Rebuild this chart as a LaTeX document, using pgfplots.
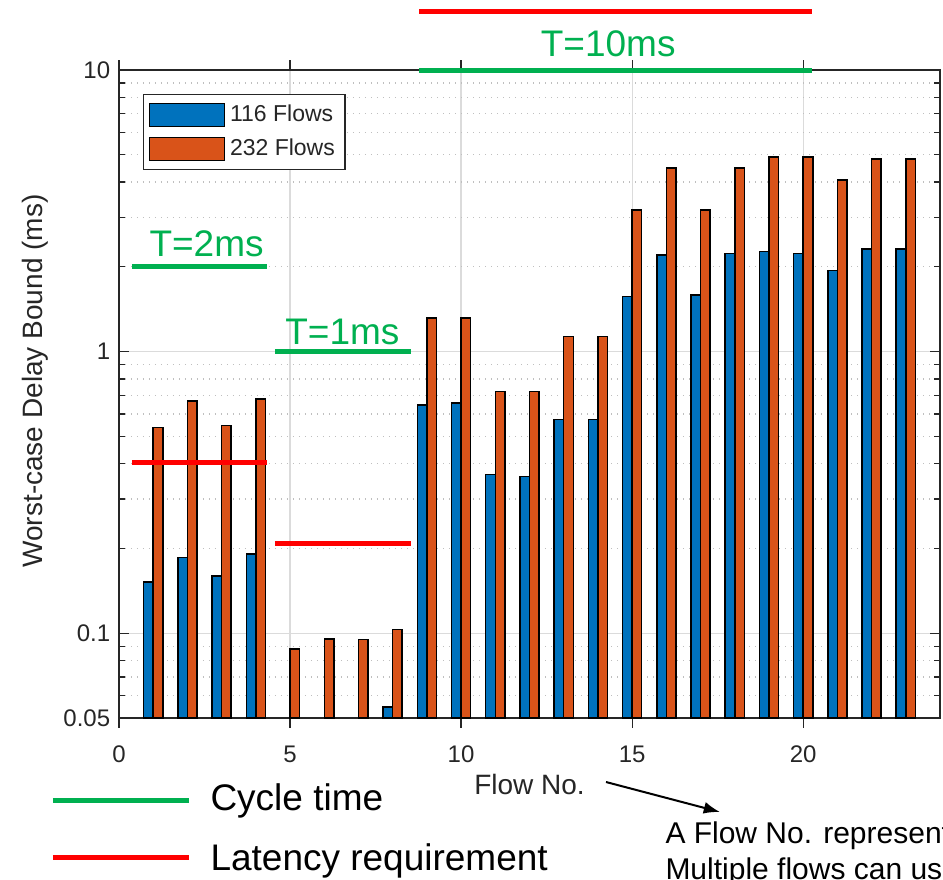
\documentclass[border=0pt]{standalone}
\usepackage{fontspec}
\setmainfont{Liberation Sans}
\usepackage{pgfplots}
\pgfplotsset{compat=1.18}
\usetikzlibrary{arrows.meta}
\definecolor{mblue}{HTML}{0072BD}
\definecolor{morange}{HTML}{D95319}
\definecolor{pgreen}{HTML}{00B050}
\definecolor{pred}{HTML}{FF0000}
\definecolor{axgray}{gray}{0.15}

\pgfplotstableread{
x y
1 0.152
2 0.186
3 0.160
4 0.191
8 0.0547
9 0.647
10 0.658
11 0.366
12 0.360
13 0.573
14 0.573
15 1.57
16 2.20
17 1.59
18 2.23
19 2.27
20 2.23
21 1.94
22 2.31
23 2.31
}\smallflows

\pgfplotstableread{
x y
1 0.538
2 0.669
3 0.547
4 0.678
5 0.088
6 0.0955
7 0.095
8 0.103
9 1.315
10 1.315
11 0.722
12 0.722
13 1.13
14 1.13
15 3.19
16 4.48
17 3.19
18 4.48
19 4.92
20 4.92
21 4.07
22 4.84
23 4.84
}\largeflows

\begin{document}
\begin{tikzpicture}
\begin{axis}[
  at={(0,0)}, anchor=south west,
  scale only axis, width=328.4pt, height=259.2pt,
  ymode=log, log origin=infty,
  xmin=0, xmax=24, ymin=0.05, ymax=10,
  xtick={0,5,10,15,20},
  ytick={0.05,0.1,1,10}, yticklabels={0.05,0.1,1,10},
  minor ytick={0.06,0.07,0.08,0.09,0.2,0.3,0.4,0.5,0.6,0.7,0.8,0.9,2,3,4,5,6,7,8,9},
  xmajorgrids, ymajorgrids, yminorgrids,
  major grid style={gray!28, line width=0.5pt},
  minor grid style={gray!50, dotted, line width=0.5pt},
  axis line style={axgray, line width=0.6pt},
  tick style={axgray, line width=0.5pt},
  major tick length=4pt, minor tick length=2.5pt,
  tick label style={font=\fontsize{9.6}{11}\selectfont, text=axgray},
  xticklabel style={yshift=-3.5pt},
  /pgf/number format/assume math mode=true,
  xlabel={Flow No.}, ylabel={Worst-case Delay Bound (ms)},
  label style={font=\fontsize{11.2}{13}\selectfont, text=axgray},
  xlabel style={at={(axis description cs:0.5,-0.102)},anchor=center},
  ylabel style={at={(axis description cs:-0.102,0.52)},anchor=center},
  ybar=0pt, bar width=0.28,
  clip=false,
  legend style={at={(0.029,0.963)}, anchor=north west, draw=axgray, line width=0.6pt,
    font=\fontsize{9.2}{11}\selectfont, text=axgray, inner sep=2pt, row sep=1.5pt},
  legend cell align=left,
  legend image code/.code={\draw[#1, line width=0.6pt] (0pt,-4.6pt) rectangle (30pt,4.6pt);},
]
\addplot[fill=mblue, draw=black, line width=0.6pt] table[x=x,y=y] {\smallflows};
\addplot[fill=morange, draw=black, line width=0.6pt] table[x=x,y=y] {\largeflows};
\legend{116 Flows, 232 Flows}

\coordinate (r1a) at (axis cs:0.38,0.403);
\coordinate (r1b) at (axis cs:4.33,0.403);
\coordinate (g1a) at (axis cs:0.38,2.0);
\coordinate (g1b) at (axis cs:4.33,2.0);
\coordinate (t1) at (axis cs:2.56,2.18);
\coordinate (r2a) at (axis cs:4.56,0.2075);
\coordinate (r2b) at (axis cs:8.54,0.2075);
\coordinate (g2a) at (axis cs:4.56,1.0);
\coordinate (g2b) at (axis cs:8.54,1.0);
\coordinate (t2) at (axis cs:6.53,1.06);
\coordinate (r3a) at (axis cs:8.77,16.18);
\coordinate (r3b) at (axis cs:20.26,16.18);
\coordinate (g3a) at (axis cs:8.77,10);
\coordinate (g3b) at (axis cs:20.26,10);
\coordinate (t3) at (axis cs:14.3,11.17);
\end{axis}

\draw[pred, line width=2pt] (r1a) -- (r1b);
\draw[pgreen, line width=2pt] (g1a) -- (g1b);
\draw[pred, line width=2pt] (r2a) -- (r2b);
\draw[pgreen, line width=2pt] (g2a) -- (g2b);
\draw[pred, line width=2pt] (r3a) -- (r3b);
\draw[pgreen, line width=2pt] (g3a) -- (g3b);
\node[anchor=base, inner sep=0, text=pgreen, font=\fontsize{14.8}{17}\selectfont] at (t1) {T=2ms};
\node[anchor=base, inner sep=0, text=pgreen, font=\fontsize{14.8}{17}\selectfont] at (t2) {T=1ms};
\node[anchor=base, inner sep=0, text=pgreen, font=\fontsize{14.8}{17}\selectfont] at (t3) {T=10ms};

\draw[pgreen, line width=2pt] (-26.4pt,-32.8pt) -- (28pt,-32.8pt);
\draw[pred, line width=2pt] (-26.4pt,-55.6pt) -- (28pt,-55.6pt);
\node[anchor=base west, inner sep=0, font=\fontsize{14.8}{17}\selectfont] at (36.4pt,-36.8pt) {Cycle time};
\node[anchor=base west, inner sep=0, font=\fontsize{14.8}{17}\selectfont] at (36.4pt,-60.8pt) {Latency requirement};
\draw[-{Latex[length=6.5pt,width=4.8pt]}, line width=0.8pt] (194.8pt,-25.6pt) -- (240.4pt,-37.6pt);
\node[anchor=base west, inner sep=0, font=\fontsize{12}{14}\selectfont] at (218.4pt,-50pt) {A Flow No. represents a flow type.};
\node[anchor=base west, inner sep=0, font=\fontsize{12}{14}\selectfont] at (218.4pt,-64.4pt) {Multiple flows can use the same Flow No.};

\pgfresetboundingbox
\useasboundingbox (-47.6pt,-64.4pt) rectangle (329.6pt,287.2pt);
\end{tikzpicture}
\end{document}
